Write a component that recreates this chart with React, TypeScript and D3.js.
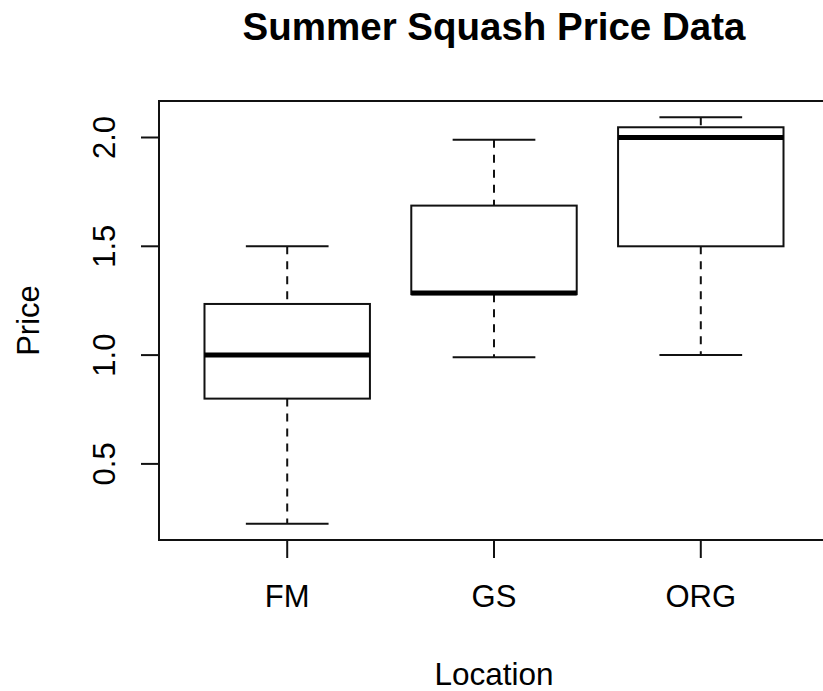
import React from "react";
import * as d3 from "d3";

const categories = ["FM", "GS", "ORG"];
const lowerWhisker = [0.225, 0.99, 1.0];
const q1 = [0.8, 1.28, 1.5];
const median = [1.0, 1.285, 2.0];
const q3 = [1.235, 1.687, 2.047];
const upperWhisker = [1.5, 1.99, 2.093];
const yTicks = [0.5, 1.0, 1.5, 2.0];

const title = "Summer Squash Price Data";
const xLabel = "Location";
const yLabel = "Price";

const W = 823;
const H = 691;
const plot = { left: 159, right: 829, top: 101, bottom: 540 };
const FONT = "'Liberation Sans', Arial, Helvetica, sans-serif";

export default function App() {
  const n = categories.length;
  const xPad = n * 0.04;
  const x = d3
    .scaleLinear()
    .domain([0.5 - xPad, n + 0.5 + xPad])
    .range([plot.left, plot.right]);
  const lo = d3.min(lowerWhisker) as number;
  const hi = d3.max(upperWhisker) as number;
  const pad = (hi - lo) * 0.04;
  const y = d3
    .scaleLinear()
    .domain([lo - pad, hi + pad])
    .range([plot.bottom, plot.top]);

  const boxHalf = x(1.4) - x(1);
  const capHalf = boxHalf / 2;
  const stroke = "#111";

  return (
    <svg
      width={W}
      height={H}
      style={{ position: "absolute", left: 0, top: 0, background: "#fff" }}
      fontFamily={FONT}
    >
      <rect x={0} y={0} width={W} height={H} fill="#fff" />
      <text
        x={(plot.left + plot.right) / 2}
        y={40}
        textAnchor="middle"
        fontSize={38.5}
        fontWeight="bold"
        fill="#000"
      >
        {title}
      </text>

      {categories.map((c, i) => {
        const cx = x(i + 1);
        return (
          <g key={c}>
            <line
              x1={cx}
              x2={cx}
              y1={y(upperWhisker[i])}
              y2={y(q3[i])}
              stroke={stroke}
              strokeWidth={2}
              strokeDasharray="8,7"
            />
            <line
              x1={cx}
              x2={cx}
              y1={y(q1[i])}
              y2={y(lowerWhisker[i])}
              stroke={stroke}
              strokeWidth={2}
              strokeDasharray="8,7"
            />
            <line
              x1={cx - capHalf}
              x2={cx + capHalf}
              y1={y(upperWhisker[i])}
              y2={y(upperWhisker[i])}
              stroke={stroke}
              strokeWidth={2}
            />
            <line
              x1={cx - capHalf}
              x2={cx + capHalf}
              y1={y(lowerWhisker[i])}
              y2={y(lowerWhisker[i])}
              stroke={stroke}
              strokeWidth={2}
            />
            <rect
              x={cx - boxHalf}
              y={y(q3[i])}
              width={boxHalf * 2}
              height={y(q1[i]) - y(q3[i])}
              fill="#fff"
              stroke={stroke}
              strokeWidth={2}
            />
            <line
              x1={cx - boxHalf}
              x2={cx + boxHalf}
              y1={y(median[i])}
              y2={y(median[i])}
              stroke="#000"
              strokeWidth={5}
            />
          </g>
        );
      })}

      <path
        d={`M${plot.right},${plot.top}H${plot.left}V${plot.bottom}H${plot.right}`}
        fill="none"
        stroke={stroke}
        strokeWidth={2}
      />

      {yTicks.map((t) => (
        <g key={t}>
          <line
            x1={plot.left - 18}
            x2={plot.left}
            y1={y(t)}
            y2={y(t)}
            stroke={stroke}
            strokeWidth={2}
          />
          <text
            transform={`translate(115,${y(t)}) rotate(-90)`}
            textAnchor="middle"
            fontSize={31}
            fill="#000"
          >
            {t.toFixed(1)}
          </text>
        </g>
      ))}

      {categories.map((c, i) => (
        <g key={c}>
          <line
            x1={x(i + 1)}
            x2={x(i + 1)}
            y1={plot.bottom}
            y2={plot.bottom + 18}
            stroke={stroke}
            strokeWidth={2}
          />
          <text x={x(i + 1)} y={607} textAnchor="middle" fontSize={31} fill="#000">
            {c}
          </text>
        </g>
      ))}

      <text
        x={(plot.left + plot.right) / 2}
        y={685}
        textAnchor="middle"
        fontSize={31.5}
        fill="#000"
      >
        {xLabel}
      </text>
      <text
        transform={`translate(39,${(plot.top + plot.bottom) / 2}) rotate(-90)`}
        textAnchor="middle"
        fontSize={31}
        fill="#000"
      >
        {yLabel}
      </text>
    </svg>
  );
}
